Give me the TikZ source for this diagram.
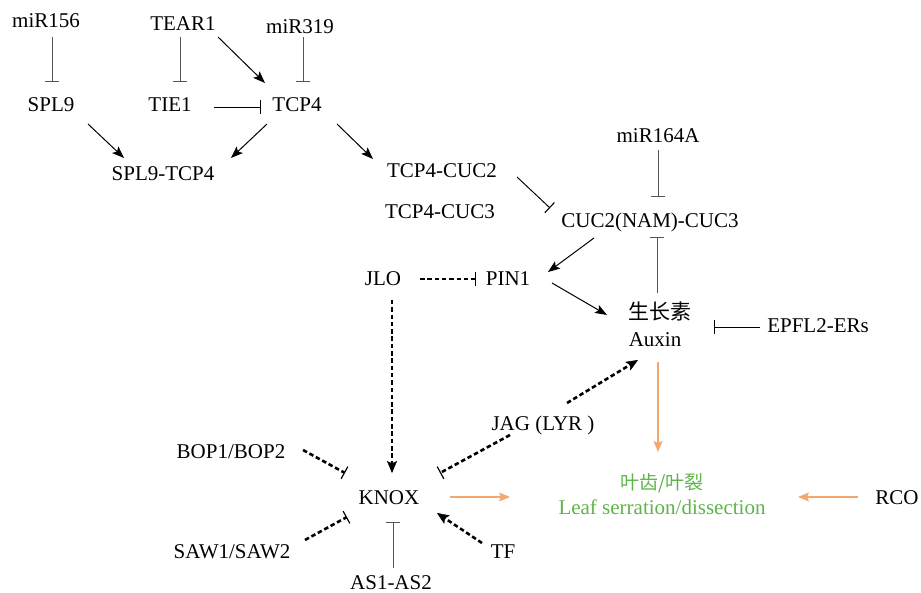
\documentclass[tikz,border=0pt]{standalone}
\usepackage{fontspec}
\setmainfont{Liberation Serif}
\newfontfamily\cjk{Noto Sans CJK SC}
\usetikzlibrary{arrows.meta,calc}
\definecolor{orangec}{RGB}{245,168,110}
\definecolor{greenc}{RGB}{92,181,72}
\definecolor{grayc}{RGB}{85,85,85}
\tikzset{
  lbl/.style={anchor=base, inner sep=0pt, font=\fontsize{21}{24}\selectfont},
  act/.style={-{Stealth[length=12pt,width=9pt,inset=2.5pt]}, line width=1pt},
  inh/.style={-{Bar[width=14pt,line width=1.1pt]}, line width=0.95pt},
  inhg/.style={inh, draw=grayc},
  dsh/.style={line width=2.6pt, dash pattern=on 4.5pt off 2.8pt},
  dact/.style={dsh, -{Stealth[length=12pt,width=10pt,inset=2.5pt,line width=0.5pt]}},
  dinh/.style={dsh, -{Bar[width=14pt,line width=1.2pt]}},
  orng/.style={draw=orangec, line width=1.2pt, -{Stealth[length=11pt,width=9pt,inset=2pt,fill=orangec]}},
}
\begin{document}
\begin{tikzpicture}[x=1pt,y=-1pt]
\path[use as bounding box] (0,0) rectangle (921,593);
% nodes
\node[lbl] (miR156) at (46,28) {miR156};
\node[lbl] (TEAR1) at (183,31) {TEAR1};
\node[lbl] (miR319) at (300,34) {miR319};
\node[lbl] (SPL9) at (51,112) {SPL9};
\node[lbl] (TIE1) at (170,112) {TIE1};
\node[lbl] (TCP4) at (297,112) {TCP4};
\node[lbl] (SPLTCP) at (163,181) {SPL9-TCP4};
\node[lbl] (TCPCUC2) at (442,178) {TCP4-CUC2};
\node[lbl] (TCPCUC3) at (440,219) {TCP4-CUC3};
\node[lbl] (miR164A) at (658,143) {miR164A};
\node[lbl] (CUC) at (650,228) {CUC2(NAM)-CUC3};
\node[lbl] (JLO) at (383,286) {JLO};
\node[lbl] (PIN1) at (508,286) {PIN1};
\node[lbl,font=\fontsize{21}{24}\selectfont\cjk] (auxcn) at (660,320) {生长素};
\node[lbl] (auxin) at (655,347) {Auxin};
\node[lbl] (EPFL) at (818,333) {EPFL2-ERs};
\node[lbl] (JAG) at (543,430) {JAG (LYR )};
\node[lbl] (BOP) at (231,458) {BOP1/BOP2};
\node[lbl] (KNOX) at (389,504) {KNOX};
\node[lbl] (SAW) at (232,558) {SAW1/SAW2};
\node[lbl] (TF) at (503,558) {TF};
\node[lbl] (AS) at (391,589) {AS1-AS2};
\node[lbl,text=greenc,font=\fontsize{19}{22}\selectfont\cjk] (leafcn) at (662,489) {叶齿/叶裂};
\node[lbl,text=greenc] (leaf) at (662,514) {Leaf serration/dissection};
\node[lbl] (RCO) at (897,504) {RCO};
% connectors
\draw[inhg] ($(miR156.base)+(6,9)$) -- ($(SPL9.base)+(1,-30)$);
\draw[inhg] ($(TEAR1.base)+(-3,6)$) -- ($(TIE1.base)+(10,-30)$);
\draw[act] ($(TEAR1.base)+(35,6)$) -- ($(TCP4.base)+(-32,-29)$);
\draw[inhg] ($(miR319.base)+(3,3)$) -- ($(TCP4.base)+(6,-30)$);
\draw[inh] ($(TIE1.base)+(44,-5)$) -- ($(TCP4.base)+(-36,-5)$);
\draw[act] ($(SPL9.base)+(37,12)$) -- ($(SPLTCP.base)+(-39,-23)$);
\draw[act] ($(TCP4.base)+(-30,12)$) -- ($(SPLTCP.base)+(68,-23)$);
\draw[act] ($(TCP4.base)+(40,12)$) -- ($(TCPCUC2.base)+(-69,-19)$);
\draw[inh] ($(TCPCUC2.base)+(75,-1)$) -- ($(CUC.base)+(-100,-20)$);
\draw[inhg] ($(miR164A.base)+(0,7)$) -- ($(CUC.base)+(8,-31)$);
\draw[inhg] ($(auxcn.base)+(-3,-27)$) -- ($(CUC.base)+(7,9)$);
\draw[act] ($(CUC.base)+(-56,10)$) -- ($(PIN1.base)+(40,-14)$);
\draw[dinh] ($(JLO.base)+(37,-7)$) -- ($(PIN1.base)+(-32,-7)$);
\draw[act] ($(PIN1.base)+(44,-3)$) -- ($(auxcn.base)+(-53,-5)$);
\draw[inh] ($(EPFL.base)+(-58,-6)$) -- ($(auxin.base)+(59,-20)$);
\draw[dact] ($(JLO.base)+(9,14)$) -- ($(KNOX.base)+(3,-31)$);
\draw[dact] ($(JAG.base)+(24,-27)$) -- ($(auxin.base)+(-17,13)$);
\draw[dinh] ($(JAG.base)+(-33,5)$) -- ($(KNOX.base)+(51,-31)$);
\draw[dinh] ($(BOP.base)+(72,-8)$) -- ($(KNOX.base)+(-44,-31)$);
\draw[dinh] ($(SAW.base)+(73,-18)$) -- ($(KNOX.base)+(-42,13)$);
\draw[dact] ($(TF.base)+(-21,-15)$) -- ($(KNOX.base)+(48,9)$);
\draw[inhg] ($(AS.base)+(2,-21)$) -- ($(KNOX.base)+(4,18)$);
\draw[orng] ($(KNOX.base)+(61,-7)$) -- ($(leaf.base)+(-152,-17)$);
\draw[orng] ($(auxin.base)+(3,15)$) -- ($(leafcn.base)+(-4,-37)$);
\draw[orng] ($(RCO.base)+(-39,-7)$) -- ($(leaf.base)+(136,-17)$);
\end{tikzpicture}
\end{document}
